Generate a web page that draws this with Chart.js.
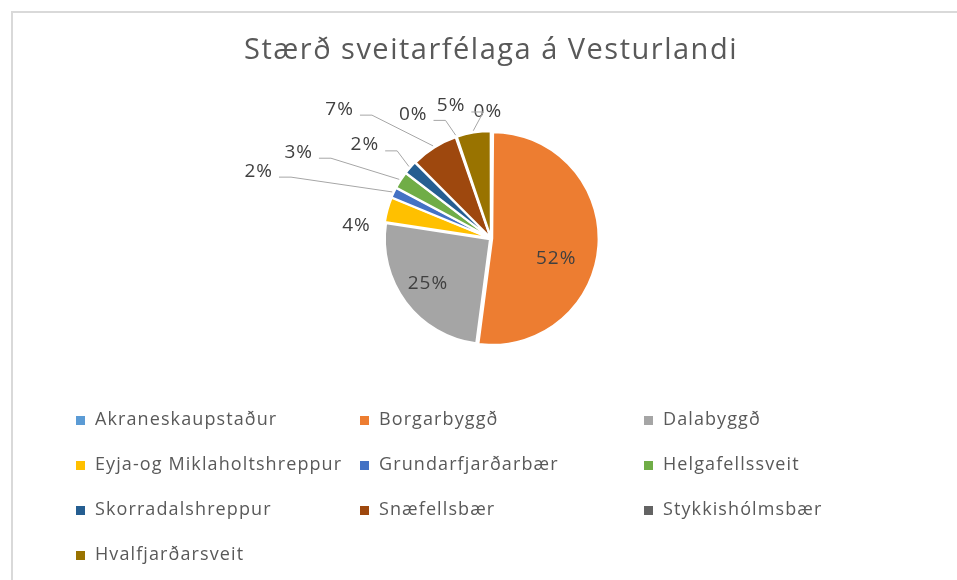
<!DOCTYPE html>
<html>
<head>
<meta charset="utf-8">
<script src="https://cdn.jsdelivr.net/npm/chart.js@4.4.1/dist/chart.umd.min.js"></script>
<style>
  html, body { margin: 0; padding: 0; background: #fff; }
  #wrap { position: relative; width: 957px; height: 580px; overflow: hidden; }
  #frame { position: absolute; left: 11px; top: 11px; width: 1000px; height: 600px;
           border-left: 2px solid #d9d9d9; border-top: 2px solid #d9d9d9; }
  #chart { position: absolute; left: 0; top: 0; }
  #legend { position: absolute; left: 76px; top: 396px; width: 860px;
            font-family: 'Open Sans', sans-serif; font-size: 18px; color: #595959;
            letter-spacing: 1.1px; }
  .item { position: absolute; height: 44px; line-height: 44px; white-space: nowrap; }
  .box { display: inline-block; width: 9px; height: 9px; margin-right: 10px; vertical-align: 0; }
</style>
</head>
<body>
<div id="wrap">
  <div id="frame"></div>
  <canvas id="chart" width="957" height="580"></canvas>
  <div id="legend"></div>
</div>
<script>
// Data
const TITLE = 'Stærð sveitarfélaga á Vesturlandi';
const MUNICIPALITIES = [
  'Akraneskaupstaður', 'Borgarbyggð', 'Dalabyggð',
  'Eyja-og Miklaholtshreppur', 'Grundarfjarðarbær', 'Helgafellssveit',
  'Skorradalshreppur', 'Snæfellsbær', 'Stykkishólmsbær',
  'Hvalfjarðarsveit'
];
// share of total (%)
const SHARES = [0.1, 52.0, 25.3, 3.8, 1.6, 2.6, 2.1, 7.2, 0.1, 5.2];
const COLORS = [
  '#5b9bd5', '#ed7d31', '#a5a5a5', '#ffc000', '#4472c4',
  '#70ad47', '#255e91', '#9e480e', '#636363', '#997300'
];

// where the labels sit, relative to pie centre in radius units
const LABEL_SPOTS = [
  [-0.03, -1.21], [0.62, 0.19], [-0.60, 0.43], [-1.28, -0.12], [-2.21, -0.64],
  [-1.83, -0.82], [-1.20, -0.89], [-1.44, -1.23], [-0.74, -1.18], [-0.38, -1.26]
];

const pctText = (v, total) => Math.round(v / total * 100) + '%';

// percent labels with leader lines, Excel style
const pieLabels = {
  id: 'pieLabels',
  afterDatasetsDraw(chart, args, opts) {
    const ctx = chart.ctx;
    const meta = chart.getDatasetMeta(0);
    const total = SHARES.reduce((a, b) => a + b, 0);
    ctx.save();
    ctx.font = '19px "Open Sans", sans-serif';
    ctx.letterSpacing = '1px';
    ctx.fillStyle = '#404040';
    ctx.textAlign = 'center';
    ctx.textBaseline = 'middle';
    meta.data.forEach((arc, i) => {
      const p = arc.getProps(['x', 'y', 'startAngle', 'endAngle', 'outerRadius'], true);
      const mid = (p.startAngle + p.endAngle) / 2;
      const R = p.outerRadius;
      const text = pctText(SHARES[i], total);
      const spot = opts.spots[i];
      const lx = p.x + spot[0] * R;
      const ly = p.y + spot[1] * R;
      ctx.fillText(text, lx, ly);
      const dist = Math.hypot(spot[0], spot[1]);
      if (dist > 1.3) {
        const ex = p.x + Math.cos(mid) * (R + 4);
        const ey = p.y + Math.sin(mid) * (R + 4);
        const w = ctx.measureText(text).width;
        const sx = lx + (ex > lx ? 1 : -1) * (w / 2 + 6);
        const sy = ly + 6;
        ctx.save();
        ctx.strokeStyle = '#a6a6a6';
        ctx.lineWidth = 1;
        ctx.beginPath();
        ctx.moveTo(sx, sy);
        ctx.lineTo(sx + (ex > lx ? 12 : -12), sy);
        ctx.lineTo(ex, ey);
        ctx.stroke();
        ctx.restore();
      }
    });
    ctx.restore();
  }
};

const spacingText = {
  id: 'spacingText',
  beforeDraw(chart) { chart.ctx.letterSpacing = '1.5px'; }
};

new Chart(document.getElementById('chart'), {
  type: 'pie',
  data: {
    labels: MUNICIPALITIES,
    datasets: [{
      data: SHARES,
      backgroundColor: COLORS,
      borderColor: '#ffffff',
      borderWidth: 2,
      offset: 5
    }]
  },
  options: {
    responsive: false,
    animation: false,
    layout: { padding: { top: 0, bottom: 233, left: 25, right: 0 } },
    plugins: {
      legend: { display: false },
      tooltip: { enabled: false },
      title: {
        display: true,
        text: TITLE,
        color: '#595959',
        font: { family: "'Open Sans', sans-serif", size: 29, weight: 400 },
        padding: { top: 33, bottom: 62 }
      },
      pieLabels: { spots: LABEL_SPOTS }
    }
  },
  plugins: [spacingText, pieLabels]
});

// legend in three columns like the original
const legend = document.getElementById('legend');
MUNICIPALITIES.forEach((name, i) => {
  const el = document.createElement('div');
  el.className = 'item';
  el.style.left = (i % 3) * 284 + 'px';
  el.style.top = Math.floor(i / 3) * 45 + 'px';
  el.innerHTML = '<span class="box" style="background:' + COLORS[i] + '"></span>' + name;
  legend.appendChild(el);
});
</script>
</body>
</html>
